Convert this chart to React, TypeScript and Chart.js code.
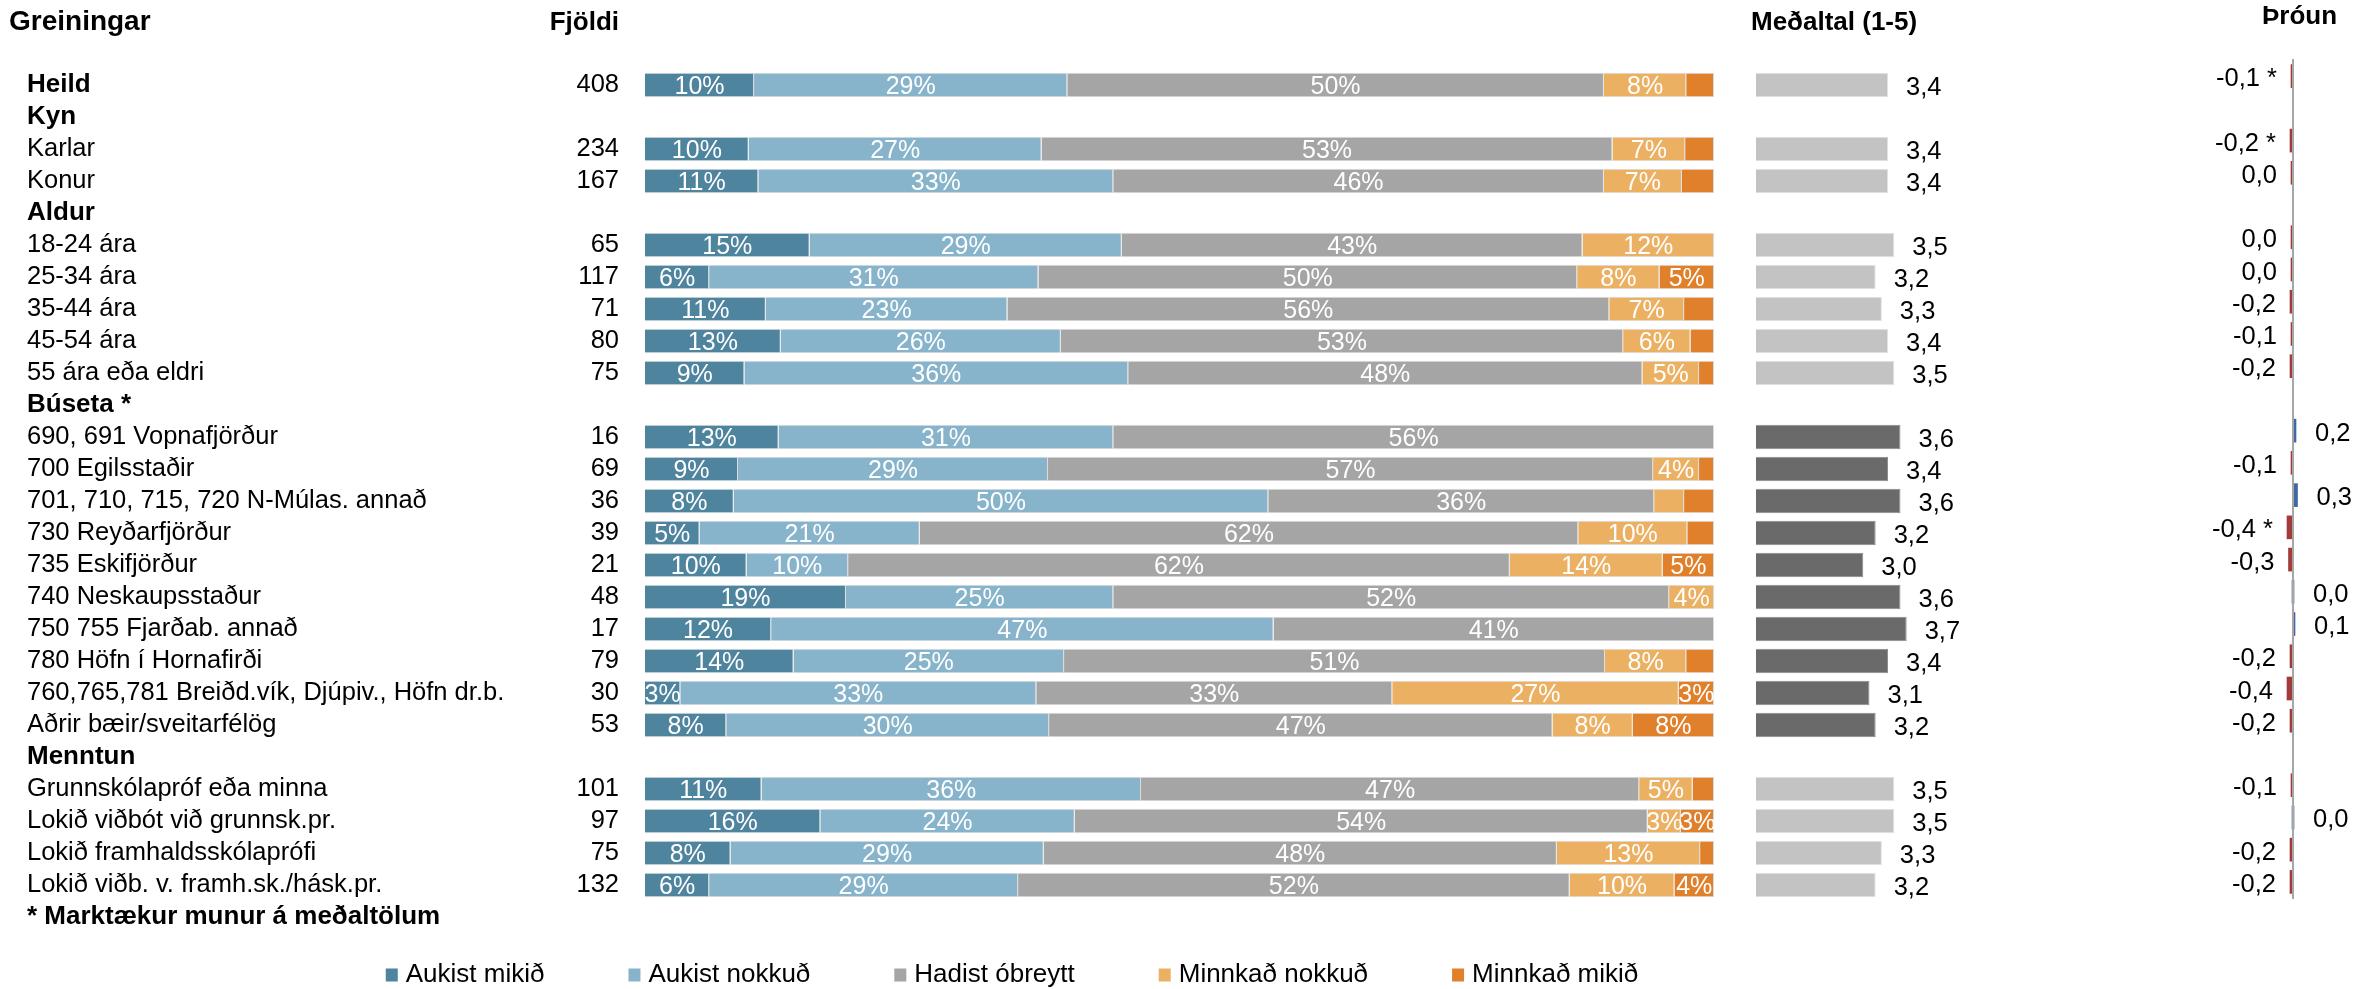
import React, { useEffect, useRef } from 'react';
import { Chart, registerables } from 'chart.js';

Chart.register(...registerables);

// ---------------- data ----------------
const rowLabels = [
  'Heild',
  'Kyn',
  'Karlar',
  'Konur',
  'Aldur',
  '18-24 ára',
  '25-34 ára',
  '35-44 ára',
  '45-54 ára',
  '55 ára eða eldri',
  'Búseta *',
  '690, 691 Vopnafjörður',
  '700 Egilsstaðir',
  '701, 710, 715, 720 N-Múlas. annað',
  '730 Reyðarfjörður',
  '735 Eskifjörður',
  '740 Neskaupsstaður',
  '750 755 Fjarðab. annað',
  '780 Höfn í Hornafirði',
  '760,765,781 Breiðd.vík, Djúpiv., Höfn dr.b.',
  'Aðrir bæir/sveitarfélög',
  'Menntun',
  'Grunnskólapróf eða minna',
  'Lokið viðbót við grunnsk.pr.',
  'Lokið framhaldsskólaprófi',
  'Lokið viðb. v. framh.sk./hásk.pr.',
  '* Marktækur munur á meðaltölum',
];

const boldRows = ['Heild', 'Kyn', 'Aldur', 'Búseta *', 'Menntun', '* Marktækur munur á meðaltölum'];

const counts = [408, null, 234, 167, null, 65, 117, 71, 80, 75, null, 16, 69, 36, 39, 21, 48, 17, 79, 30, 53, null, 101, 97, 75, 132, null];

const aukistMikid = [10.2, null, 9.7, 10.6, null, 15.4, 6.0, 11.3, 12.7, 9.3, null, 12.5, 8.7, 8.3, 5.1, 9.5, 18.8, 11.8, 13.9, 3.3, 7.6, null, 10.9, 16.4, 8.0, 6.0, null];
const aukistNokkud = [29.3, null, 27.4, 33.2, null, 29.2, 30.8, 22.6, 26.2, 35.9, null, 31.3, 29.0, 50.0, 20.6, 9.5, 25.0, 47.0, 25.3, 33.3, 30.2, null, 35.5, 23.8, 29.3, 28.9, null];
const hadistObreytt = [50.2, null, 53.4, 45.9, null, 43.1, 50.4, 56.3, 52.6, 48.1, null, 56.2, 56.6, 36.1, 61.6, 61.9, 52.0, 41.2, 50.6, 33.3, 47.1, null, 46.6, 53.6, 48.0, 51.6, null];
const minnkadNokkud = [7.7, null, 6.8, 7.3, null, 12.3, 7.7, 7.0, 6.3, 5.3, null, 0, 4.3, 2.8, 10.2, 14.3, 4.2, 0, 7.6, 26.8, 7.5, null, 5.0, 3.1, 13.4, 9.8, null];
const minnkadMikid = [2.6, null, 2.7, 3.0, null, 0, 5.1, 2.8, 2.2, 1.4, null, 0, 1.4, 2.8, 2.5, 4.8, 0, 0, 2.6, 3.3, 7.6, null, 2.0, 3.1, 1.3, 3.7, null];

const seriesNames = ['Aukist mikið', 'Aukist nokkuð', 'Hadist óbreytt', 'Minnkað nokkuð', 'Minnkað mikið'];
const seriesValues = [aukistMikid, aukistNokkud, hadistObreytt, minnkadNokkud, minnkadMikid];
const seriesColors = ['#4E849E', '#87B4CB', '#A5A5A5', '#ECB063', '#E0802B'];

const means = [3.4, null, 3.4, 3.4, null, 3.5, 3.2, 3.3, 3.4, 3.5, null, 3.6, 3.4, 3.6, 3.2, 3.0, 3.6, 3.7, 3.4, 3.1, 3.2, null, 3.5, 3.5, 3.3, 3.2, null];

const changes = [-0.1, null, -0.2, -0.02, null, -0.02, -0.02, -0.2, -0.1, -0.2, null, 0.2, -0.1, 0.3, -0.4, -0.3, 0, 0.1, -0.2, -0.4, -0.2, null, -0.1, 0, -0.2, -0.2];
const changeSignificant = [true, false, true, false, false, false, false, false, false, false, false, false, false, false, true, false, false, false, false, false, false, false, false, false, false, false];

const titleLabels = 'Greiningar';
const titleCounts = 'Fjöldi';
const titleMeans = 'Meðaltal (1-5)';
const titleChange = 'Þróun';

// ---------------- layout / style ----------------
const W = 2374;
const H = 989;
const FONT = '"Liberation Sans", Arial, Helvetica, sans-serif';
const LABEL_X = 27;
const PLOT_LEFT = 645;
const PCT_RIGHT = 1714;
const MEAN_LEFT = 1756;
const MEAN_BASE = 1.27;
const MEAN_PX = 62;
const CHANGE_ZERO_X = 2293;
const CHANGE_PX = 15;
const ROWS_TOP = 69;
const ROWS_BOTTOM = 933;
const CHANGE_TOP = 60;
const CHANGE_BOTTOM = 898;
const COUNT_RIGHT = 619;
const LEGEND_CX = 1012;
const LEGEND_Y = 975;
const LEGEND_GAP = 84;

const MEAN_LIGHT = '#C3C3C3';
const MEAN_DARK = '#6A6A6A';
const NEG_COLOR = '#A33B3B';
const POS_COLOR = '#3E68A3';

const sectionOf = (() => {
  let cur = '';
  return rowLabels.map((l, i) => {
    if (counts[i] == null) cur = l;
    return cur;
  });
})();
const meanColors = means.map((_, i) => (sectionOf[i].endsWith('*') ? MEAN_DARK : MEAN_LIGHT));
const meanBorders = means.map((_, i) => (sectionOf[i].endsWith('*') ? '#8A8A8A' : '#E2E2E2'));

const fmtComma = (v: number) => (Math.abs(v) < 0.05 ? '0,0' : v.toFixed(1).replace('.', ','));

const labelsPluginA = {
  id: 'labelsA',
  afterDatasetsDraw(chart: any) {
    const ctx = chart.ctx;
    ctx.save();
    ctx.textBaseline = 'middle';
    // percentage labels
    ctx.font = `25px ${FONT}`;
    ctx.fillStyle = '#FFFFFF';
    ctx.textAlign = 'center';
    seriesValues.forEach((vals, d) => {
      const meta = chart.getDatasetMeta(d);
      vals.forEach((v, i) => {
        if (v == null || v <= 3.05) return;
        const el = meta.data[i];
        if (!el) return;
        ctx.fillText(`${Math.round(v)}%`, (el.x + el.base) / 2, el.y + 2.5);
      });
    });
    // mean labels
    const mMeta = chart.getDatasetMeta(seriesValues.length);
    ctx.fillStyle = '#000000';
    ctx.textAlign = 'left';
    ctx.font = `25.5px ${FONT}`;
    means.forEach((v, i) => {
      if (v == null) return;
      const el = mMeta.data[i];
      if (!el) return;
      ctx.fillText(fmtComma(v), el.x + 18, el.y + 3);
    });
    ctx.restore();
  },
  afterDraw(chart: any) {
    const ctx = chart.ctx;
    const y = chart.scales.y;
    ctx.save();
    // headers
    ctx.fillStyle = '#000000';
    ctx.textBaseline = 'alphabetic';
    ctx.font = `bold 28px ${FONT}`;
    ctx.textAlign = 'left';
    ctx.fillText(titleLabels, 9, 30);
    ctx.font = `bold 26px ${FONT}`;
    ctx.textAlign = 'right';
    ctx.fillText(titleCounts, COUNT_RIGHT, 30);
    ctx.textAlign = 'left';
    ctx.fillText(titleMeans, 1751, 30);
    ctx.fillText(titleChange, 2262, 24);
    // counts
    ctx.font = `25.5px ${FONT}`;
    ctx.textBaseline = 'middle';
    ctx.textAlign = 'right';
    counts.forEach((c, i) => {
      if (c == null) return;
      ctx.fillText(String(c), COUNT_RIGHT, y.getPixelForValue(i));
    });
    // legend
    ctx.font = `26px ${FONT}`;
    ctx.textAlign = 'left';
    const widths = seriesNames.map((n) => 20 + ctx.measureText(n).width);
    const total = widths.reduce((a, b) => a + b, 0) + LEGEND_GAP * (seriesNames.length - 1);
    let x = LEGEND_CX - total / 2;
    seriesNames.forEach((n, i) => {
      ctx.fillStyle = seriesColors[i];
      ctx.fillRect(x, LEGEND_Y - 6.5, 12, 13);
      ctx.fillStyle = '#000000';
      ctx.fillText(n, x + 20, LEGEND_Y);
      x += widths[i] + LEGEND_GAP;
    });
    ctx.restore();
  },
};

const labelsPluginB = {
  id: 'labelsB',
  afterDatasetsDraw(chart: any) {
    const ctx = chart.ctx;
    const meta = chart.getDatasetMeta(0);
    ctx.save();
    ctx.font = `25.5px ${FONT}`;
    ctx.fillStyle = '#000000';
    ctx.textBaseline = 'middle';
    changes.forEach((v, i) => {
      if (v == null) return;
      const el = meta.data[i];
      if (!el) return;
      const txt = fmtComma(v) + (changeSignificant[i] ? ' *' : '');
      if (v < 0) {
        ctx.textAlign = 'right';
        ctx.fillText(txt, Math.min(el.x, el.base) - 14, el.y + 3);
      } else {
        ctx.textAlign = 'left';
        ctx.fillText(txt, Math.max(el.x, el.base) + 19, el.y + 3);
      }
    });
    ctx.restore();
  },
};

export default function App() {
  const refA = useRef<HTMLCanvasElement>(null);
  const refB = useRef<HTMLCanvasElement>(null);

  useEffect(() => {
    const pctPx = (PCT_RIGHT - PLOT_LEFT) / 100;
    const chartA = new Chart(refA.current as HTMLCanvasElement, {
      type: 'bar',
      data: {
        labels: rowLabels,
        datasets: [
          ...seriesValues.map((vals, d) => ({
            label: seriesNames[d],
            data: vals,
            xAxisID: 'xp',
            backgroundColor: seriesColors[d],
            borderColor: '#DCDCDC',
            borderWidth: 1,
            barPercentage: 0.76,
            categoryPercentage: 1,
          })),
          {
            label: 'Meðaltal',
            data: means,
            xAxisID: 'xm',
            base: MEAN_BASE,
            backgroundColor: meanColors,
            borderColor: meanBorders,
            borderWidth: 1,
            barPercentage: 0.76,
            categoryPercentage: 1,
          },
        ] as any,
      },
      options: {
        indexAxis: 'y',
        responsive: false,
        animation: false,
        events: [],
        layout: { padding: { left: LABEL_X, top: ROWS_TOP, bottom: H - ROWS_BOTTOM, right: 0 } },
        plugins: { legend: { display: false }, tooltip: { enabled: false } },
        scales: {
          y: {
            type: 'category',
            stacked: true,
            grid: { display: false },
            border: { display: false },
            ticks: {
              autoSkip: false,
              crossAlign: 'far',
              color: '#000000',
              font: (c: any) => {
                const bold = boldRows.includes(rowLabels[c.index]);
                return { family: FONT, size: bold ? 26 : 25.5, weight: bold ? 'bold' : 'normal' };
              },
            },
            afterFit: (s: any) => {
              s.width = PLOT_LEFT - LABEL_X;
            },
          },
          xp: {
            type: 'linear',
            axis: 'x',
            stacked: true,
            display: false,
            min: 0,
            max: (W - PLOT_LEFT) / pctPx,
          },
          xm: {
            type: 'linear',
            axis: 'x',
            display: false,
            min: MEAN_BASE - (MEAN_LEFT - PLOT_LEFT) / MEAN_PX,
            max: MEAN_BASE + (W - MEAN_LEFT) / MEAN_PX,
          },
        },
      } as any,
      plugins: [labelsPluginA],
    });

    const chartB = new Chart(refB.current as HTMLCanvasElement, {
      type: 'bar',
      data: {
        labels: rowLabels.slice(0, changes.length),
        datasets: [
          {
            label: titleChange,
            data: changes,
            backgroundColor: changes.map((v) => (v != null && v < 0 ? NEG_COLOR : POS_COLOR)),
            barThickness: 23,
            minBarLength: 2,
          },
        ] as any,
      },
      options: {
        indexAxis: 'y',
        responsive: false,
        animation: false,
        events: [],
        layout: { padding: { left: 0, top: CHANGE_TOP, bottom: H - CHANGE_BOTTOM, right: 0 } },
        plugins: { legend: { display: false }, tooltip: { enabled: false } },
        scales: {
          x: {
            type: 'linear',
            display: false,
            min: -CHANGE_ZERO_X / CHANGE_PX,
            max: (W - CHANGE_ZERO_X) / CHANGE_PX,
          },
          y: {
            type: 'category',
            position: { x: 0 },
            grid: { display: false },
            ticks: { display: false },
            border: { display: true, color: '#A6A6A6', width: 2, z: 1 },
          },
        },
      } as any,
      plugins: [labelsPluginB],
    });

    return () => {
      chartA.destroy();
      chartB.destroy();
    };
  }, []);

  return (
    <div style={{ position: 'absolute', left: 0, top: 0, width: W, height: H, background: '#FFFFFF' }}>
      <canvas ref={refA} width={W} height={H} style={{ position: 'absolute', left: 0, top: 0 }} />
      <canvas ref={refB} width={W} height={H} style={{ position: 'absolute', left: 0, top: 0 }} />
    </div>
  );
}
